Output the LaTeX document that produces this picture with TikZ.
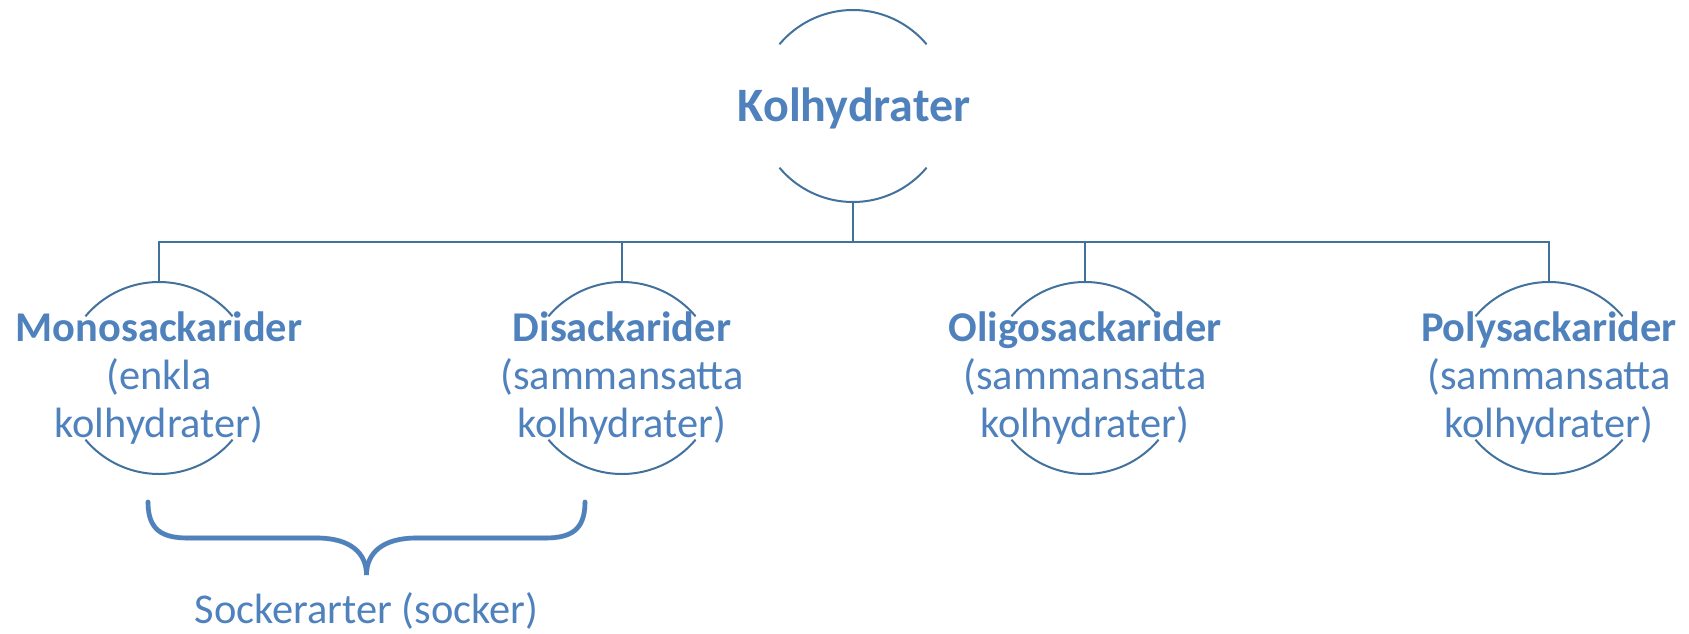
\documentclass[tikz,border=0pt]{standalone}
\usepackage{fontspec}
\setmainfont{Carlito}
\usetikzlibrary{positioning,calc}
\definecolor{ink}{HTML}{4F81BD}
\definecolor{wire}{HTML}{41719C}
\tikzset{ring/.style={circle,minimum size=96pt,inner sep=0pt,outer sep=0pt},arcline/.style={draw=wire,line width=1pt},tree/.style={draw=wire,line width=1.1pt},kid/.style={align=center,text=ink,font=\fontsize{21.2}{24.2}\selectfont},head/.style={text=ink,font=\fontsize{24}{28}\selectfont\bfseries},bracket/.style={draw=ink,line width=2.3pt,line cap=round},shade/.style={draw=black!12,line width=2.6pt,line cap=round}}

\begin{document}
\begin{tikzpicture}[x=0.5pt,y=0.5pt]
\useasboundingbox (0,0) rectangle (1689,633);
% rings
\node[ring] (kol) at (853,527) {};
\node[ring] (mono) at (159,255) {};
\node[ring] (di) at (622,255) {};
\node[ring] (oligo) at (1085,255) {};
\node[ring] (poly) at (1549,255) {};
\foreach \n in {kol,mono,di,oligo,poly}{
  \draw[arcline] (\n.140) arc[start angle=140,end angle=40,radius=48pt];
  \draw[arcline] (\n.220) arc[start angle=220,end angle=320,radius=48pt];
}
% texts
\node[head] (kol-t) at ($(kol)+(1,-2)$) {Kolhydrater};
\node[kid] (mono-t) at (mono) {\textbf{Monosackarider}\\(enkla\\kolhydrater)};
\node[kid] (di-t) at (di) {\textbf{Disackarider}\\(sammansatta\\kolhydrater)};
\node[kid] (oligo-t) at (oligo) {\textbf{Oligosackarider}\\(sammansatta\\kolhydrater)};
\node[kid] (poly-t) at (poly) {\textbf{Polysackarider}\\(sammansatta\\kolhydrater)};
% tree
\coordinate (bus) at ($(kol.south)!0.5!(mono.north)$);
\draw[tree] (kol.south) -- (kol.south |- bus);
\foreach \n in {mono,di,oligo,poly}
  \draw[tree] (kol.south |- bus) -| (\n.north);
% brace
\coordinate (bl) at ($(mono.south)+(-11,-28)$);
\coordinate (br) at ($(di.south)+(-37,-28)$);
\coordinate (tip) at ($(bl)!0.5!(br)+(0,-73)$);
\begin{scope}[shift={(1.5,-3)}]
\draw[shade] (bl) .. controls +(0,-28) and +(-26,0) .. ++(40,-36) -- ($(tip)+(-50,37)$) .. controls +(34,0) and +(0,22) .. (tip) .. controls +(0,22) and +(-34,0) .. ($(tip)+(50,37)$) -- ($(br)+(-40,-36)$) .. controls +(26,0) and +(0,-28) .. (br);
\end{scope}
\draw[bracket] (bl) .. controls +(0,-28) and +(-26,0) .. ++(40,-36) -- ($(tip)+(-50,37)$) .. controls +(34,0) and +(0,22) .. (tip) .. controls +(0,22) and +(-34,0) .. ($(tip)+(50,37)$) -- ($(br)+(-40,-36)$) .. controls +(26,0) and +(0,-28) .. (br);
\node[kid,inner sep=1pt] (sock) at ($(tip)+(0,-36)$) {Sockerarter (socker)};
\end{tikzpicture}
\end{document}
